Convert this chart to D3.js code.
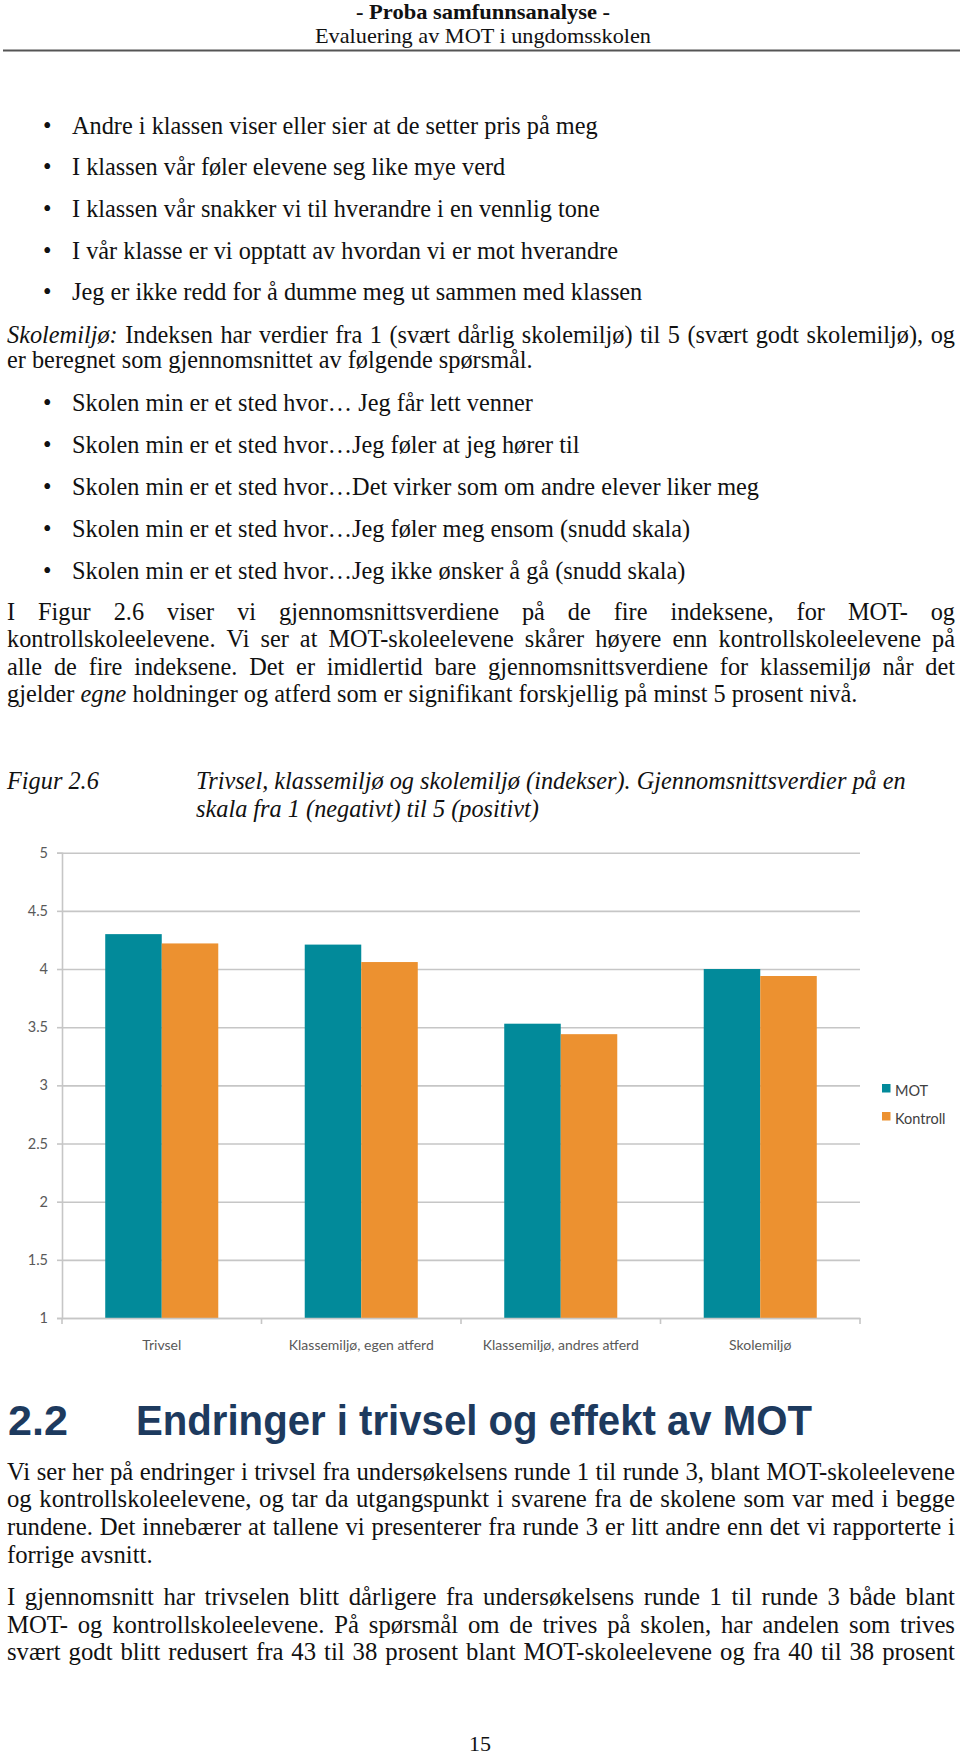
<!DOCTYPE html>
<html><head><meta charset="utf-8">
<script src="https://cdn.jsdelivr.net/npm/d3@7"></script>
<style>html,body{margin:0;padding:0;background:#fff;}svg{display:block;}</style>
</head><body>
<svg id="page" width="960" height="1757"></svg>
<script>
// ---------- chart data ----------
const categories = ["Trivsel", "Klassemiljø, egen atferd", "Klassemiljø, andres atferd", "Skolemiljø"];
const seriesNames = ["MOT", "Kontroll"];
const motValues = [4.30, 4.21, 3.53, 4.00];
const kontrollValues = [4.22, 4.06, 3.44, 3.94];
const yTicks = [1, 1.5, 2, 2.5, 3, 3.5, 4, 4.5, 5];
const yTickLabels = ["1", "1.5", "2", "2.5", "3", "3.5", "4", "4.5", "5"];
const seriesColors = ["#028a9a", "#ec9130"];

// ---------- page text ----------
const headerLines = ["- Proba samfunnsanalyse -", "Evaluering av MOT i ungdomsskolen"];
const bullets1 = [
  "Andre i klassen viser eller sier at de setter pris på meg",
  "I klassen vår føler elevene seg like mye verd",
  "I klassen vår snakker vi til hverandre i en vennlig tone",
  "I vår klasse er vi opptatt av hvordan vi er mot hverandre",
  "Jeg er ikke redd for å dumme meg ut sammen med klassen"
];
const para1 = [
  ["*Skolemiljø:* Indeksen har verdier fra 1 (svært dårlig skolemiljø) til 5 (svært godt skolemiljø), og", true],
  ["er beregnet som gjennomsnittet av følgende spørsmål.", false]
];
const bullets2 = [
  "Skolen min er et sted hvor… Jeg får lett venner",
  "Skolen min er et sted hvor…Jeg føler at jeg hører til",
  "Skolen min er et sted hvor…Det virker som om andre elever liker meg",
  "Skolen min er et sted hvor…Jeg føler meg ensom (snudd skala)",
  "Skolen min er et sted hvor…Jeg ikke ønsker å gå (snudd skala)"
];
const para2 = [
  ["I Figur 2.6 viser vi gjennomsnittsverdiene på de fire indeksene, for MOT- og", true],
  ["kontrollskoleelevene. Vi ser at MOT-skoleelevene skårer høyere enn kontrollskoleelevene på", true],
  ["alle de fire indeksene. Det er imidlertid bare gjennomsnittsverdiene for klassemiljø når det", true],
  ["gjelder *egne* holdninger og atferd som er signifikant forskjellig på minst 5 prosent nivå.", false]
];
const captionLabel = "Figur 2.6";
const captionLines = ["Trivsel, klassemiljø og skolemiljø (indekser). Gjennomsnittsverdier på en",
                      "skala fra 1 (negativt) til 5 (positivt)"];
const headingNum = "2.2";
const headingText = "Endringer i trivsel og effekt av MOT";
const para3 = [
  ["Vi ser her på endringer i trivsel fra undersøkelsens runde 1 til runde 3, blant MOT-skoleelevene", true],
  ["og kontrollskoleelevene, og tar da utgangspunkt i svarene fra de skolene som var med i begge", true],
  ["rundene. Det innebærer at tallene vi presenterer fra runde 3 er litt andre enn det vi rapporterte i", true],
  ["forrige avsnitt.", false]
];
const para4 = [
  ["I gjennomsnitt har trivselen blitt dårligere fra undersøkelsens runde 1 til runde 3 både blant", true],
  ["MOT- og kontrollskoleelevene. På spørsmål om de trives på skolen, har andelen som trives", true],
  ["svært godt blitt redusert fra 43 til 38 prosent blant MOT-skoleelevene og fra 40 til 38 prosent", true]
];
const pageNumber = "15";

const svg = d3.select("#page");
const SERIF = "'Liberation Serif','Times New Roman',serif";
const FS = 24.3;

function drawLine(parent, str, x, y, o) {
  o = Object.assign({size: FS, justifyTo: null, italic: false, weight: "normal", family: SERIF, fill: "#111", baseSx: 1}, o || {});
  const words = str.split(" ").filter(w => w.length);
  const g = parent.append("g");
  const items = words.map(w => {
    let it = o.italic;
    let txt = w;
    if (w.startsWith("*") && w.endsWith("*")) { it = true; txt = w.slice(1, -1); }
    const t = g.append("text").attr("font-family", o.family).attr("font-size", o.size)
      .attr("font-weight", o.weight).attr("font-style", it ? "italic" : "normal")
      .attr("fill", o.fill).text(txt);
    return {t, w: t.node().getComputedTextLength()};
  });
  const total = d3.sum(items, d => d.w);
  let sx = o.baseSx, gap = o.size * 0.25 * sx;
  if (o.justifyTo != null && items.length > 1) {
    const W = o.justifyTo - x;
    const minGap = o.size * 0.2;
    sx = Math.min(o.baseSx, (W - minGap * (items.length - 1)) / total);
    gap = (W - sx * total) / (items.length - 1);
  }
  let cx = x;
  items.forEach(d => {
    d.t.attr("transform", `translate(${cx},${y}) scale(${sx},1)`);
    cx += d.w * sx + gap;
  });
}

// ---------- header ----------
svg.append("text").attr("x", 483).attr("y", 18.5).attr("text-anchor", "middle")
  .attr("font-family", SERIF).attr("font-weight", "bold").attr("font-size", 21)
  .attr("textLength", 254).attr("lengthAdjust", "spacingAndGlyphs").attr("fill", "#111").text(headerLines[0]);
svg.append("text").attr("x", 483).attr("y", 42.5).attr("text-anchor", "middle")
  .attr("font-family", SERIF).attr("font-size", 22)
  .attr("textLength", 336).attr("lengthAdjust", "spacingAndGlyphs").attr("fill", "#111").text(headerLines[1]);
svg.append("line").attr("x1", 3).attr("x2", 960).attr("y1", 50.5).attr("y2", 50.5)
  .attr("stroke", "#555").attr("stroke-width", 2);

const LEFT = 7, RIGHT = 955;
function bulletList(list, y0, step) {
  list.forEach((s, i) => {
    const y = y0 + i * step;
    svg.append("text").attr("x", 43).attr("y", y).attr("font-family", SERIF).attr("font-size", FS)
      .attr("fill", "#111").text("•");
    drawLine(svg, s, 72, y);
  });
}
function para(lines, y0, step, opts) {
  lines.forEach((l, i) => drawLine(svg, l[0], LEFT, y0 + i * step,
    Object.assign({justifyTo: l[1] ? RIGHT : null}, opts || {})));
}

bulletList(bullets1, 133.5, 41.7);
para(para1, 342.5, 25.2);
bulletList(bullets2, 411, 42.1);
para(para2, 620, 27.4);

// caption
drawLine(svg, captionLabel, LEFT, 789, {italic: true});
captionLines.forEach((l, i) => drawLine(svg, l, 196, 789 + i * 28, {italic: true}));

// ---------- chart ----------
const plotL = 62, plotR = 860, plotT = 852.7, plotB = 1318;
const y = d3.scaleLinear().domain([1, 5]).range([plotB, plotT]);
const x0 = d3.scaleBand().domain(categories).range([plotL, plotR]).padding(0);
const x1 = d3.scaleBand().domain(seriesNames).range([0, x0.bandwidth()]).paddingInner(0).paddingOuter(0.765);
const color = d3.scaleOrdinal().domain(seriesNames).range(seriesColors);
const GRID = "#c6c6c6";
const SANS = "Lato, 'Open Sans', sans-serif";
const chart = svg.append("g");

// gridlines
const grid = chart.append("g").attr("transform", `translate(${plotL},0)`)
  .call(d3.axisLeft(y).tickValues(yTicks).tickSize(-(plotR - plotL)).tickFormat(""));
grid.select(".domain").remove();
grid.selectAll("line").attr("stroke", GRID).attr("stroke-width", 1.6);

// bars
const rows = categories.map((c, i) => ({cat: c, vals: [
  {s: seriesNames[0], v: motValues[i]}, {s: seriesNames[1], v: kontrollValues[i]}]}));
chart.append("g").selectAll("g").data(rows).join("g")
  .attr("transform", d => `translate(${x0(d.cat)},0)`)
  .selectAll("rect").data(d => d.vals).join("rect")
  .attr("x", d => x1(d.s)).attr("width", x1.bandwidth())
  .attr("y", d => y(d.v)).attr("height", d => y(1) - y(d.v))
  .attr("fill", d => color(d.s));

// y axis
const yAx = chart.append("g").attr("transform", `translate(${plotL},0)`)
  .call(d3.axisLeft(y).tickValues(yTicks).tickSize(5).tickPadding(9)
    .tickFormat((d, i) => yTickLabels[i]));
yAx.select(".domain").attr("stroke", GRID).attr("stroke-width", 1.6);
yAx.selectAll("line").attr("stroke", GRID).attr("stroke-width", 1.6);
yAx.selectAll("text").attr("font-family", SANS).attr("font-size", 14.5).attr("fill", "#595959");

// x axis
const xAx = chart.append("g").attr("transform", `translate(0,${plotB})`)
  .call(d3.axisBottom(x0).tickSize(0).tickPadding(22));
xAx.select(".domain").attr("stroke", GRID).attr("stroke-width", 1.6);
xAx.selectAll("text").attr("font-family", SANS).attr("font-size", 14).attr("fill", "#595959");
const bounds = categories.map(c => x0(c)).concat([x0.range()[1]]);
xAx.selectAll("line.bound").data(bounds).join("line").attr("class", "bound")
  .attr("x1", d => d).attr("x2", d => d).attr("y1", 0).attr("y2", 6)
  .attr("stroke", GRID).attr("stroke-width", 1.6);

// legend
const leg = chart.append("g").attr("transform", "translate(882,1084)");
seriesNames.forEach((s, i) => {
  const li = leg.append("g").attr("transform", `translate(0,${i * 28})`);
  li.append("rect").attr("width", 8.5).attr("height", 8.5).attr("fill", color(s));
  li.append("text").attr("x", 13).attr("y", 11.5).attr("font-family", SANS).attr("font-size", 14.5)
    .attr("fill", "#404040").text(s);
});

// ---------- heading ----------
const HEADC = "#1d3a5e";
svg.append("text").attr("x", 8).attr("y", 1435).attr("font-family", "'Liberation Sans',Arial,sans-serif")
  .attr("font-weight", "bold").attr("font-size", 42).attr("fill", HEADC)
  .attr("textLength", 60).attr("lengthAdjust", "spacingAndGlyphs").text(headingNum);
svg.append("text").attr("x", 136).attr("y", 1435).attr("font-family", "'Liberation Sans',Arial,sans-serif")
  .attr("font-weight", "bold").attr("font-size", 42).attr("fill", HEADC)
  .attr("textLength", 676).attr("lengthAdjust", "spacingAndGlyphs").text(headingText);

para(para3, 1479.5, 27.8, {size: 25.5, baseSx: 0.97});
para(para4, 1605, 27.6, {size: 25.5, baseSx: 0.97});

svg.append("text").attr("x", 480).attr("y", 1751).attr("text-anchor", "middle")
  .attr("font-family", SERIF).attr("font-size", 22).attr("fill", "#111").text(pageNumber);
</script>
</body></html>
